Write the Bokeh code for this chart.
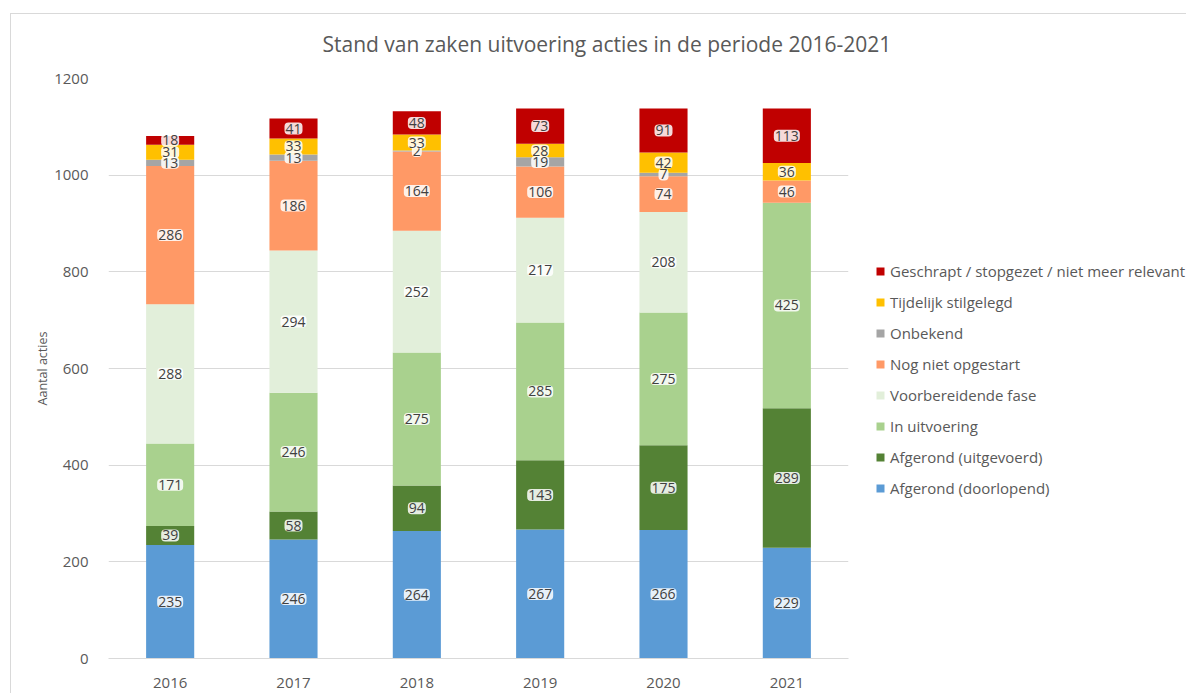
from bokeh.plotting import figure
from bokeh.models import ColumnDataSource, Legend, FixedTicker
from bokeh.core.properties import value
from bokeh.embed import file_html
from bokeh.resources import INLINE

years = ["2016", "2017", "2018", "2019", "2020", "2021"]
status = ["Afgerond (doorlopend)", "Afgerond (uitgevoerd)", "In uitvoering",
          "Voorbereidende fase", "Nog niet opgestart", "Onbekend",
          "Tijdelijk stilgelegd", "Geschrapt / stopgezet / niet meer relevant"]
afgerond_doorlopend = [235, 246, 264, 267, 266, 229]
afgerond_uitgevoerd = [39, 58, 94, 143, 175, 289]
in_uitvoering = [171, 246, 275, 285, 275, 425]
voorbereidend = [288, 294, 252, 217, 208, 0]
nog_niet = [286, 186, 164, 106, 74, 46]
onbekend = [13, 13, 2, 19, 7, 0]
tijdelijk = [31, 33, 33, 28, 42, 36]
geschrapt = [18, 41, 48, 73, 91, 113]
colors = ["#5B9BD5", "#548235", "#A9D18E", "#E2EFDA", "#FF9966", "#A5A5A5", "#FFC000", "#C00000"]
y_ticks = [0, 200, 400, 600, 800, 1000, 1200]

series = [afgerond_doorlopend, afgerond_uitgevoerd, in_uitvoering, voorbereidend,
          nog_niet, onbekend, tijdelijk, geschrapt]
keys = ["s%d" % i for i in range(len(series))]
data = {"year": years}
for k, s in zip(keys, series):
    data[k] = s
src = ColumnDataSource(data)

FONT = "Open Sans"
GREY = "#595959"

p = figure(x_range=years, y_range=(0, 1200), output_backend="svg", toolbar_location=None,
           frame_width=740, frame_height=580, min_border_left=108, min_border_top=78,
           min_border_bottom=35, min_border_right=338,
           title="Stand van zaken uitvoering acties in de periode 2016-2021")
p.title.align = "left"
p.title.text_font = FONT
p.title.text_font_size = "21px"
p.title.text_font_style = "normal"
p.title.text_color = GREY
p.title.offset = 214
p.title.standoff = 42

# light grey chart-area border (top and left edges visible in the window)
p.background_fill_alpha = 0
p.border_fill_alpha = 0
p.styles = {
    "background": "linear-gradient(#D9D9D9, #D9D9D9) 10px 13px / 1px 100% no-repeat, "
                  "linear-gradient(#D9D9D9, #D9D9D9) 10px 13px / 100% 1px no-repeat, white"
}

renderers = p.vbar_stack(keys, x="year", width=0.39, source=src, color=colors, line_color=None)

# value labels
lx, ly, lt = [], [], []
for i, y in enumerate(years):
    base = 0
    for s in series:
        v = s[i]
        if v > 0:
            lx.append(y)
            ly.append(base + v / 2)
            lt.append(str(v))
        base += v
lsrc = ColumnDataSource(dict(x=lx, y=ly, t=lt))
p.text(x="x", y="y", text="t", source=lsrc, text_align="center", text_baseline="middle",
       text_font=value(FONT), text_font_size="14px", text_color="#404040",
       background_fill_color="white", background_fill_alpha=0.85,
       padding=1, border_radius=4)

items = [(name, [r]) for name, r in zip(status, renderers)]
items.reverse()
legend = Legend(items=items, location=(27, 160), glyph_width=10, glyph_height=10,
                label_text_font=FONT, label_text_font_size="15px", label_text_color=GREY,
                spacing=11, label_standoff=5, label_height=20, border_line_color=None,
                background_fill_alpha=0, padding=0, margin=0)
p.add_layout(legend, "right")

p.yaxis.ticker = FixedTicker(ticks=y_ticks)
for ax in (p.xaxis, p.yaxis):
    ax.major_label_text_font = FONT
    ax.major_label_text_font_size = "15px"
    ax.major_label_text_color = GREY
    ax.major_tick_line_color = None
    ax.minor_tick_line_color = None
p.yaxis.axis_line_color = None
p.xaxis.axis_line_color = "#D9D9D9"
p.yaxis.major_label_standoff = 14
p.xaxis.major_label_standoff = 13
p.yaxis.axis_label = "Aantal acties"
p.yaxis.axis_label_standoff = 0
p.yaxis.axis_label_text_font = FONT
p.yaxis.axis_label_text_font_size = "12.5px"
p.yaxis.axis_label_text_font_style = "normal"
p.yaxis.axis_label_text_color = GREY
p.xgrid.grid_line_color = None
p.ygrid.grid_line_color = "#D9D9D9"
p.outline_line_color = None
p.x_range.range_padding = 0

open("out.html", "w").write(file_html(p, INLINE))
